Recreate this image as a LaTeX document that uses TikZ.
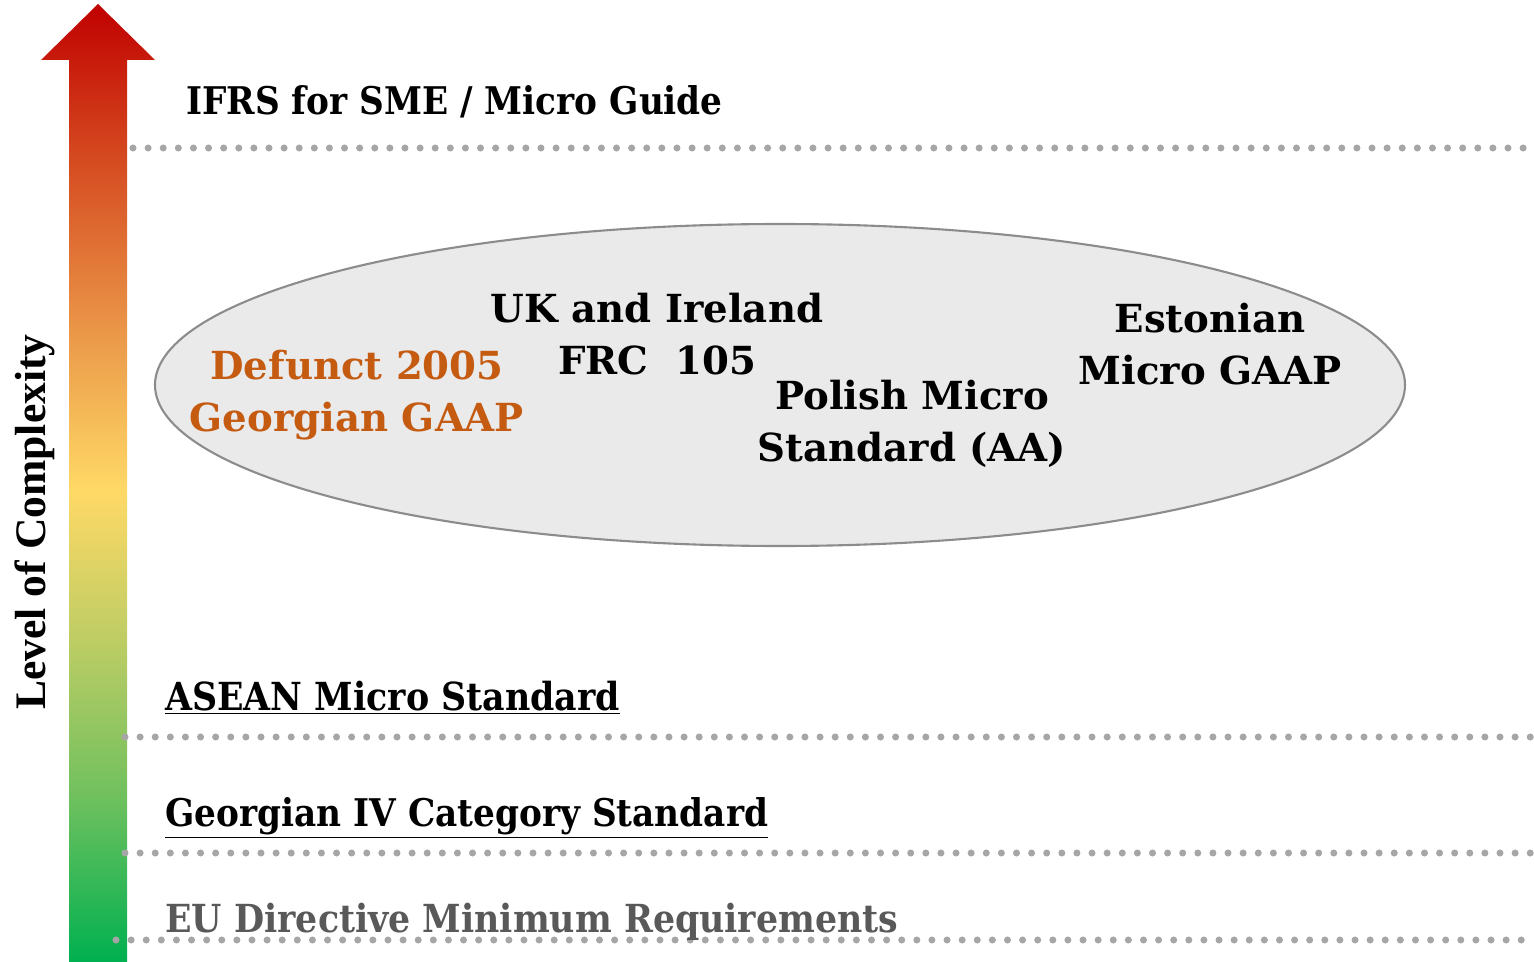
\documentclass[tikz,border=0pt]{standalone}
\usepackage{fontspec}
\setmainfont{DejaVu Serif}
\newfontfamily\narrowfont{DejaVu Serif Condensed}
\newfontfamily\timesfont{Liberation Serif}
\usepackage{xcolor}
\usetikzlibrary{shapes,positioning}
\definecolor{defunct}{HTML}{C55A11}
\definecolor{eugray}{HTML}{595959}
\definecolor{dotgray}{HTML}{A6A6A6}
\definecolor{ovalfill}{HTML}{EAEAEA}
\definecolor{ovaldraw}{HTML}{8C8C8C}
\pgfdeclareverticalshading{complexity}{100bp}{
	color(0bp)=(rgb,255:red,0;green,176;blue,80);
	color(25bp)=(rgb,255:red,0;green,176;blue,80);
	color(33.5bp)=(rgb,255:red,110;green,192;blue,94);
	color(41.3bp)=(rgb,255:red,185;green,204;blue,100);
	color(49.6bp)=(rgb,255:red,255;green,217;blue,102);
	color(58bp)=(rgb,255:red,234;green,150;blue,72);
	color(67.4bp)=(rgb,255:red,212;green,70;blue,30);
	color(75bp)=(rgb,255:red,192;green,0;blue,0);
	color(100bp)=(rgb,255:red,192;green,0;blue,0)}
\tikzset{
	standard/.style = {
		anchor=base west, inner sep=0pt, font=\narrowfont\bfseries\fontsize{22}{26}\selectfont
	}
}
\tikzset{
	gaap/.style = {
		align=center, inner sep=0pt, font=\bfseries\fontsize{22}{29.5}\selectfont
	}
}
\tikzset{
	divider/.style = {
		dotgray, line width=4, line cap=round, dash pattern=on 0pt off 8.6
	}
}
\begin{document}
\begin{tikzpicture}[x=0.02cm, y=-0.02cm]
	\useasboundingbox (0,0) rectangle (1534,962);
	% arrow
	\shade[shading=complexity] (69,962) -- (69,60) -- (41,60) -- (98,4) -- (155,60) -- (127,60) -- (127,962) -- cycle;
	\node[rotate=90, anchor=base, inner sep=0pt, font=\timesfont\bfseries\fontsize{24.8}{28}\selectfont](Complexity) at (45,522){Level of Complexity};

	% levels
	\draw[divider] (133,148) -- (1534,148);
	\draw[divider] (125,737) -- (1534,737);
	\draw[divider] (125,853) -- (1534,853);
	\draw[divider] (116,940) -- (1534,940);

	\node[standard, font=\narrowfont\bfseries\fontsize{21.7}{26}\selectfont](IFRSGuide) at (186,115){IFRS for SME / Micro Guide};
	\node[standard](ASEANStandard) at (165,710){\underline{ASEAN Micro Standard}};
	\node[standard, font=\narrowfont\bfseries\fontsize{21.7}{26}\selectfont](GeorgianStandard) at (165,826){\underline{Georgian IV Category Standard}};
	\node[standard, eugray](EUDirective) at (165,932){EU Directive Minimum Requirements};

	% micro standards
	\node[ellipse, draw=ovaldraw, fill=ovalfill, line width=1.2, minimum width=1250*0.02cm, minimum height=322*0.02cm](MicroOval) at (780,385){};
	\node[gaap, defunct](DefunctGAAP) at (357,395){Defunct 2005\\Georgian GAAP};
	\node[gaap](UKFRC) at (657,334){UK and Ireland\\FRC\ \ 105};
	\node[gaap](PolishStandard) at (912,424){Polish Micro\\Standard (AA)};
	\node[gaap](EstonianGAAP) at (1210,344){Estonian\\Micro GAAP};
\end{tikzpicture}
\end{document}
